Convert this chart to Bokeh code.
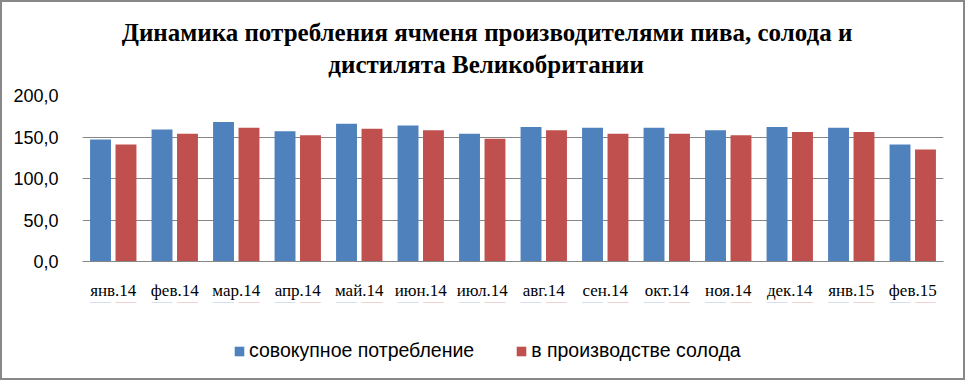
from bokeh.plotting import figure
from bokeh.layouts import column
from bokeh.models import FactorRange, Range1d, FixedTicker, Legend, LegendItem, ColumnDataSource, Label
from bokeh.transform import dodge
from bokeh.embed import file_html
from bokeh.resources import INLINE

months = ["янв.14", "фев.14", "мар.14", "апр.14", "май.14", "июн.14", "июл.14",
          "авг.14", "сен.14", "окт.14", "ноя.14", "дек.14", "янв.15", "фев.15"]
total = [147.0, 159.0, 168.0, 157.0, 166.0, 164.0, 154.0,
         162.0, 161.0, 161.0, 158.0, 162.0, 161.0, 141.0]
malt = [141.0, 154.0, 161.0, 152.0, 160.0, 158.0, 148.0,
        158.0, 154.0, 154.0, 152.0, 156.0, 156.0, 135.0]
series_names = ["совокупное потребление", "в производстве солода"]
y_ticks = [0, 50, 100, 150, 200]
y_tick_labels = ["0,0", "50,0", "100,0", "150,0", "200,0"]
title_line1 = "Динамика  потребления  ячменя производителями  пива, солода и"
title_line2 = "дистилята  Великобритании"

BLUE = "#4F81BD"
RED = "#C0504D"
GRID = "#868686"
W = 961

src = ColumnDataSource(dict(month=months, total=total, malt=malt))

# ---- title strip ----
h = figure(width=W, height=78, x_range=Range1d(0, W), y_range=Range1d(0, 78),
           x_axis_type=None, y_axis_type=None, output_backend="svg", toolbar_location=None,
           min_border=0, title=None)
h.outline_line_color = None
h.border_fill_color = "white"
h.background_fill_color = "white"
h.grid.visible = False
for txt, xx, yy in ((title_line1, 462, 48), (title_line2, 454, 16)):
    h.add_layout(Label(x=xx, y=yy, text=txt, text_align="center", text_baseline="middle",
                       text_font="Liberation Serif", text_font_size="25px",
                       text_font_style="bold", text_color="black"))

# ---- bar chart ----
p = figure(x_range=FactorRange(*months), y_range=Range1d(0, 200),
           width=W, height=222, output_backend="svg", toolbar_location=None, title=None,
           min_border_left=80, min_border_right=20, min_border_top=15, min_border_bottom=37)
p.outline_line_color = None
p.background_fill_color = "white"
p.border_fill_color = "white"

p.vbar(x=dodge("month", -0.207, range=p.x_range), top="total", width=0.34,
       source=src, fill_color=BLUE, line_color=None)
p.vbar(x=dodge("month", 0.207, range=p.x_range), top="malt", width=0.34,
       source=src, fill_color=RED, line_color=None)

p.yaxis.ticker = FixedTicker(ticks=y_ticks)
p.yaxis.major_label_overrides = {t: l for t, l in zip(y_ticks, y_tick_labels)}
p.yaxis.axis_line_color = None
p.yaxis.major_tick_line_color = None
p.yaxis.minor_tick_line_color = None
p.yaxis.major_label_standoff = 18
p.yaxis.major_label_text_font = "Liberation Sans"
p.yaxis.major_label_text_font_size = "18px"
p.yaxis.major_label_text_color = "black"

p.xaxis.axis_line_color = GRID
p.xaxis.major_tick_line_color = None
p.xaxis.minor_tick_line_color = None
p.xaxis.major_label_standoff = 13
p.xaxis.major_label_text_font = "Liberation Serif"
p.xaxis.major_label_text_font_size = "17px"
p.xaxis.major_label_text_color = "black"
p.xgrid.grid_line_color = None
p.ygrid.ticker = FixedTicker(ticks=y_ticks)
p.ygrid.grid_line_color = GRID

# ---- legend strip: shares the categories; its value range lies outside the
# data, so only the legend swatches and labels are visible ----
q = figure(width=W, height=76, x_range=p.x_range, y_range=Range1d(-2, -1),
           x_axis_type=None, y_axis_type=None, output_backend="svg", toolbar_location=None,
           min_border=0, title=None)
q.outline_line_color = None
q.border_fill_color = "white"
q.background_fill_color = "white"
q.grid.visible = False
k1 = q.vbar(x=dodge("month", -0.207, range=p.x_range), top="total", width=0.34,
            source=src, fill_color=BLUE, line_color=None)
k2 = q.vbar(x=dodge("month", 0.207, range=p.x_range), top="malt", width=0.34,
            source=src, fill_color=RED, line_color=None)

legend = Legend(items=[LegendItem(label=series_names[0], renderers=[k1]),
                       LegendItem(label=series_names[1], renderers=[k2])],
                orientation="horizontal", location=(151, 16),
                padding=0, margin=0, spacing=41, label_standoff=4,
                glyph_width=12, glyph_height=12,
                border_line_color=None, background_fill_alpha=0,
                label_text_font="Liberation Sans", label_text_font_size="19.5px",
                label_text_color="black")
q.add_layout(legend, "center")

layout = column(h, p, q, spacing=0)
layout.styles = {"border": "2px solid #888888"}

open("out.html", "w").write(file_html(layout, INLINE))
